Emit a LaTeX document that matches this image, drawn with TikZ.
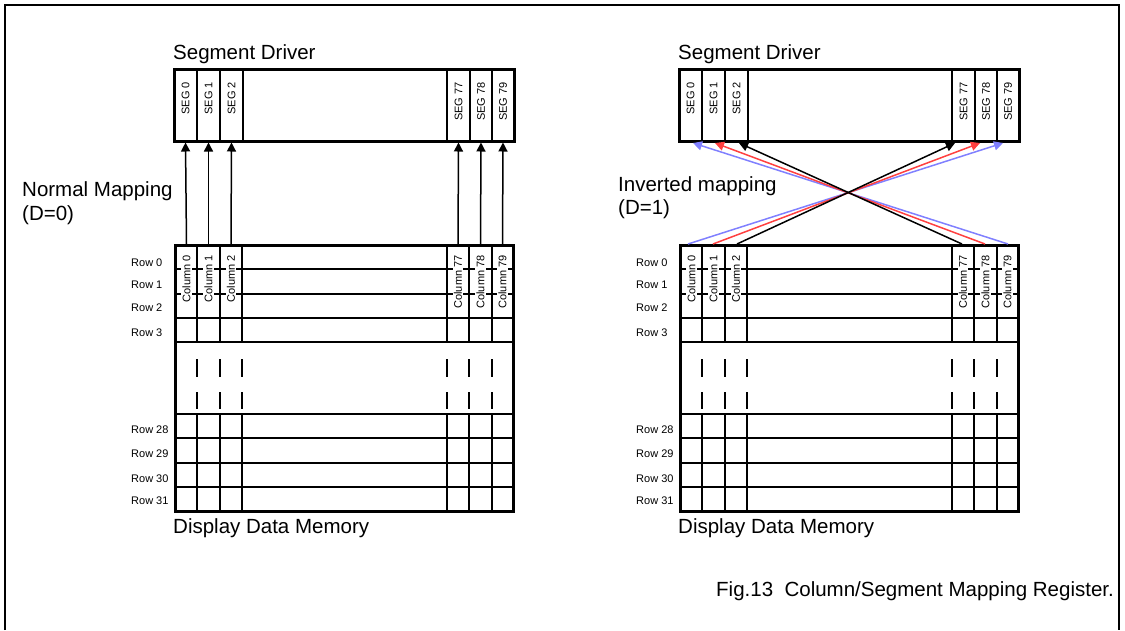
\documentclass[tikz,border=0pt]{standalone}
\usepackage{fontspec}
\setmainfont{Liberation Sans}
\usetikzlibrary{arrows.meta}
\definecolor{mapblue}{RGB}{128,128,255}
\definecolor{mapred}{RGB}{255,64,64}
\begin{document}
\begin{tikzpicture}[x=1pt,y=-1pt,
  big/.style={font=\fontsize{20.5}{24}\selectfont, inner sep=0pt, anchor=base west},
  small/.style={font=\fontsize{11}{13}\selectfont, inner sep=0pt},
  seglab/.style={small, rotate=90, anchor=east},
  collab/.style={small, rotate=90, anchor=east, fill=white, inner sep=1.2pt},
  outer/.style={line width=2.5pt},
  boxline/.style={line width=3pt},
  gridline/.style={line width=2.2pt},
  arr/.style={line width=1.5pt, -{Triangle[length=9pt,width=9pt]}}]
\useasboundingbox (0,0) rectangle (1125,630);
% outer frame (open at the bottom)
\draw[outer] (5,630) -- (5,5) -- (1119,5) -- (1119,630);

\foreach \p/\dx in {L/0,R/505}{
\begin{scope}[xshift=\dx pt]
  % segment driver
  \node[big] (\p sdtitle) at (173,59) {Segment Driver};
  \foreach \x in {197,220,243,447,470,492}
    \draw[gridline] (\x,69) -- (\x,141);
  \draw[boxline] (174,69) rectangle (514,141);
  \foreach \x/\t/\n in {185.5/0/0, 208.5/1/1, 231.5/2/2, 458.5/77/3, 481/78/4, 503/79/5}{
    \node[seglab] (\p seg\n) at (\x,82) {SEG \t};
    \coordinate (\p sb\n) at (\x,142.5);
  }
  % display data memory
  \foreach \y in {269,294,318,342,414,438,463,487}
    \draw[gridline] (175,\y) -- (513,\y);
  \foreach \x in {197,220,242,447,469,492}{
    \draw[gridline] (\x,245) -- (\x,342);
    \draw[gridline] (\x,414) -- (\x,511);
    \draw[gridline] (\x,359) -- (\x,377) (\x,392) -- (\x,409);
  }
  \draw[boxline] (175,245) rectangle (513,511);
  \foreach \x/\t/\n in {186.5/0/0, 208.5/1/1, 231/2/2, 458/77/3, 480.5/78/4, 502.5/79/5}{
    \node[collab] (\p col\n) at (\x,254) {Column \t};
    \coordinate (\p ct\n) at (\x,244);
  }
  \foreach \y/\t in {266/0,288/1,311/2,336/3,433/28,457/29,482/30,504/31}
    \node[small, anchor=base west] (\p row\t) at (131,\y) {Row \t};
  \node[big] (\p ddm) at (173,533) {Display Data Memory};
\end{scope}
}

% normal mapping
\node[big] (nm1) at (22,196) {Normal Mapping};
\node[big] (nm2) at (22,220) {(D=0)};
\foreach \n in {0,...,5}
  \draw[arr] (Lct\n) -- (Lsb\n);

% inverted mapping
\node[big] (im1) at (618,191) {Inverted mapping};
\node[big] (im2) at (618,214) {(D=1)};
\coordinate (rb0) at (688,244);  \coordinate (rb1) at (713,244);  \coordinate (rb2) at (737,244);
\coordinate (rb3) at (962,244);  \coordinate (rb4) at (985,244);  \coordinate (rb5) at (1008,244);
\coordinate (rt0) at (693,143);  \coordinate (rt1) at (715,143);  \coordinate (rt2) at (739,143);
\coordinate (rt3) at (955,143);  \coordinate (rt4) at (980,143);  \coordinate (rt5) at (1003,143);
\draw[arr, mapblue] (rb0) -- (rt5);
\draw[arr, mapblue] (rb5) -- (rt0);
\draw[arr, mapred] (rb1) -- (rt4);
\draw[arr, mapred] (rb4) -- (rt1);
\draw[arr, black] (rb2) -- (rt3);
\draw[arr, black] (rb3) -- (rt2);

\node[big] (cap) at (716,596) {Fig.13\ \ Column/Segment Mapping Register.};
\end{tikzpicture}
\end{document}
